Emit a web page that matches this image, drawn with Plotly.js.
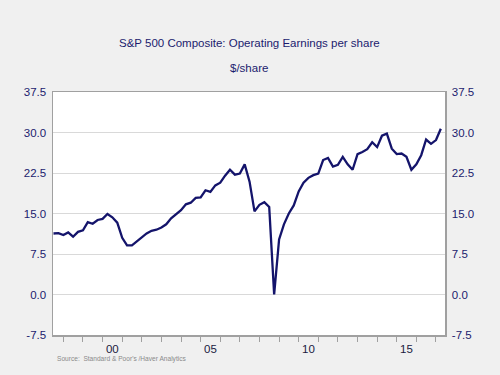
<!DOCTYPE html>
<html>
<head>
<meta charset="utf-8">
<script src="https://cdn.plot.ly/plotly-3.0.1.min.js"></script>
<style>html,body{margin:0;padding:0;background:#f0f0f0;}#chart{width:500px;height:375px;}</style>
</head>
<body>
<div id="chart"></div>
<script>
// Quarterly dates (start of quarter), 1997Q3 .. 2017Q2
var quarters = [
  '1997-07-01','1997-10-01',
  '1998-01-01','1998-04-01','1998-07-01','1998-10-01',
  '1999-01-01','1999-04-01','1999-07-01','1999-10-01',
  '2000-01-01','2000-04-01','2000-07-01','2000-10-01',
  '2001-01-01','2001-04-01','2001-07-01','2001-10-01',
  '2002-01-01','2002-04-01','2002-07-01','2002-10-01',
  '2003-01-01','2003-04-01','2003-07-01','2003-10-01',
  '2004-01-01','2004-04-01','2004-07-01','2004-10-01',
  '2005-01-01','2005-04-01','2005-07-01','2005-10-01',
  '2006-01-01','2006-04-01','2006-07-01','2006-10-01',
  '2007-01-01','2007-04-01','2007-07-01','2007-10-01',
  '2008-01-01','2008-04-01','2008-07-01','2008-10-01',
  '2009-01-01','2009-04-01','2009-07-01','2009-10-01',
  '2010-01-01','2010-04-01','2010-07-01','2010-10-01',
  '2011-01-01','2011-04-01','2011-07-01','2011-10-01',
  '2012-01-01','2012-04-01','2012-07-01','2012-10-01',
  '2013-01-01','2013-04-01','2013-07-01','2013-10-01',
  '2014-01-01','2014-04-01','2014-07-01','2014-10-01',
  '2015-01-01','2015-04-01','2015-07-01','2015-10-01',
  '2016-01-01','2016-04-01','2016-07-01','2016-10-01',
  '2017-01-01','2017-04-01'
];
// Operating earnings per share ($/share)
var eps = [
  11.3, 11.35,
  11.0, 11.5, 10.7, 11.6,
  11.9, 13.4, 13.1, 13.8,
  14.0, 14.9, 14.3, 13.3,
  10.5, 9.1, 9.1, 9.8,
  10.6, 11.3, 11.8, 12.0,
  12.4, 13.0, 14.1, 14.8,
  15.6, 16.7, 17.0, 17.9,
  18.0, 19.3, 19.0, 20.2,
  20.7, 22.0, 23.1, 22.2,
  22.4, 24.1, 20.9, 15.4,
  16.6, 17.1, 16.2, 0.0,
  10.2, 13.0, 15.0, 16.5,
  19.1, 20.7, 21.6, 22.1,
  22.4, 24.9, 25.3, 23.7,
  24.0, 25.5, 24.1, 23.1,
  26.0, 26.4, 26.9, 28.2,
  27.3, 29.4, 29.8, 27.0,
  26.0, 26.1, 25.5, 23.1,
  24.1, 25.8, 28.7, 27.9,
  28.6, 30.7
];
var xLabelPos = ['2000-07-01','2005-07-01','2010-07-01','2015-07-01'];
var xLabelText = ['00','05','10','15'];
var yTicks = [-7.5, 0, 7.5, 15, 22.5, 30, 37.5];
var yTickText = ['-7.5','0.0','7.5','15.0','22.5','30.0','37.5'];

var navy = '#1b1b6e';
var axisGrey = '#a0a0a0';

var traces = [
  {x: quarters, y: eps, type: 'scatter', mode: 'lines',
   line: {color: '#14146b', width: 2.3}, hoverinfo: 'skip', showlegend: false}
];

var layout = {
  width: 500, height: 375,
  paper_bgcolor: '#f0f0f0', plot_bgcolor: '#ffffff',
  margin: {l: 53, r: 55, t: 92, b: 40},
  showlegend: false,
  font: {family: 'Liberation Sans, Arial, sans-serif', color: navy, size: 11},
  xaxis: {
    type: 'date', range: ['1997-06-22', '2017-06-18'],
    tickmode: 'array', tickvals: xLabelPos, ticktext: xLabelText,
    ticks: '', showgrid: false, zeroline: false,
    showline: true, linecolor: axisGrey, linewidth: 1.5, mirror: true,
    ticklabelstandoff: 3,
    tickfont: {size: 11.5, color: '#1a1a40'},
    minor: {ticks: 'outside', ticklen: 5, tickwidth: 1, tickcolor: axisGrey,
            tick0: '1998-01-01', dtick: 'M12', showgrid: false}
  },
  yaxis: {
    range: [-7.5, 37.5], tickmode: 'array', tickvals: yTicks, ticktext: yTickText,
    showgrid: true, gridcolor: '#d9d9d9', gridwidth: 1, zeroline: false,
    showline: true, linecolor: axisGrey, linewidth: 1.5,
    ticks: '', ticklabelstandoff: 3,
    tickfont: {size: 11.5, color: navy}
  },
  yaxis2: {
    range: [-7.5, 37.5], tickmode: 'array', tickvals: yTicks, ticktext: yTickText,
    overlaying: 'y', side: 'right', showgrid: false, zeroline: false,
    showline: true, linecolor: axisGrey, linewidth: 1.5,
    ticks: '', ticklabelstandoff: 3,
    tickfont: {size: 11.5, color: navy}
  },
  annotations: [
    {text: 'S&P 500 Composite: Operating Earnings per share', xref: 'paper', yref: 'paper',
     x: 0.5, y: 1.203, xanchor: 'center', yanchor: 'middle', showarrow: false,
     font: {size: 11.5, color: navy}},
    {text: '$/share', xref: 'paper', yref: 'paper',
     x: 0.5, y: 1.100, xanchor: 'center', yanchor: 'middle', showarrow: false,
     font: {size: 11.5, color: navy}},
    {text: 'Source:  Standard & Poor\'s /Haver Analytics', xref: 'paper', yref: 'paper',
     x: 0.004, y: -0.099, xanchor: 'left', yanchor: 'middle', showarrow: false,
     font: {size: 6.6, color: '#8a8a8a'}}
  ]
};

// invisible trace to anchor the right axis
traces.push({x: quarters, y: eps, yaxis: 'y2', type: 'scatter', mode: 'lines',
  line: {width: 0}, opacity: 0, hoverinfo: 'skip', showlegend: false});

Plotly.newPlot('chart', traces, layout, {staticPlot: true, displayModeBar: false});
</script>
</body>
</html>
